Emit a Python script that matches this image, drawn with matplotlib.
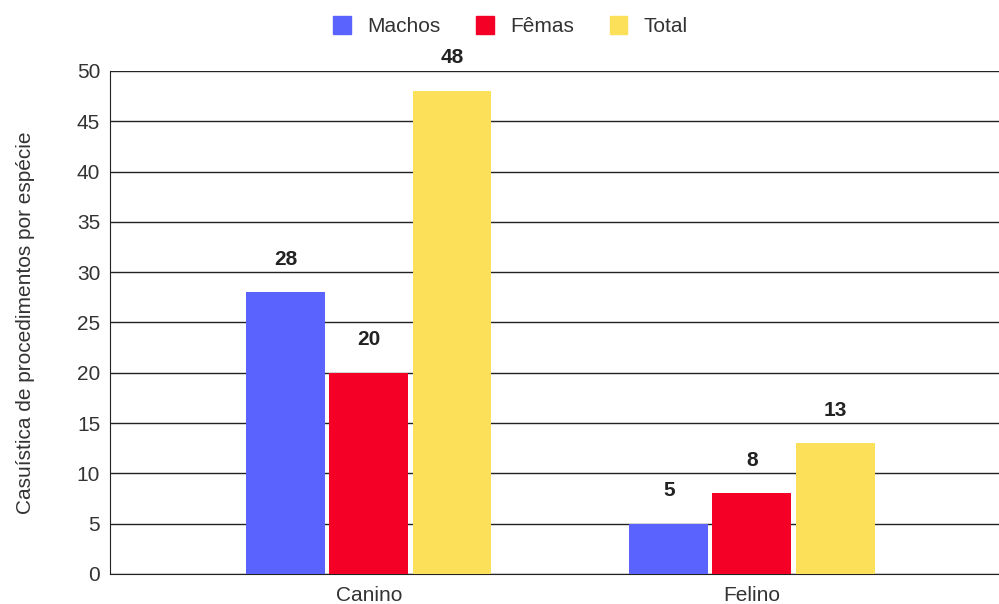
import matplotlib
matplotlib.use("Agg")
import matplotlib.pyplot as plt
import numpy as np
from matplotlib.patches import Patch

categories = ["Canino", "Felino"]
series_names = ["Machos", "Fêmas", "Total"]
machos = [28, 5]
femeas = [20, 8]
total = [48, 13]
yticks = [0, 5, 10, 15, 20, 25, 30, 35, 40, 45, 50]

colors = ["#5b63fe", "#f40027", "#fce05a"]

plt.rcParams["font.family"] = ["Liberation Sans", "DejaVu Sans"]

fig = plt.figure(figsize=(9.99, 6.04), dpi=100)
ax = fig.add_axes([0.110, 0.0497, 0.89, 0.8328])

x = np.arange(len(categories))
width = 0.206
step = 0.217
for i, (vals, col) in enumerate(zip([machos, femeas, total], colors)):
    pos = x + (i - 1) * step
    ax.bar(pos, vals, width=width, color=col, zorder=3)
    for p, v in zip(pos, vals):
        ax.annotate(str(v), (p, v), xytext=(0, 17), textcoords="offset points",
                    ha="center", va="bottom", fontsize=15, fontweight="bold",
                    color="#222222")

ax.set_xlim(-0.676, 1.645)
ax.set_ylim(0, 50)
ax.set_yticks(yticks)
ax.set_xticks(x)
ax.set_xticklabels(categories)
ax.tick_params(axis="both", length=0, labelsize=15, colors="#333333")
ax.tick_params(axis="x", pad=9)
ax.tick_params(axis="y", pad=7)
ax.yaxis.grid(True, color="#222222", linewidth=1.0, zorder=0)
ax.set_axisbelow(True)
for s in ["top", "right"]:
    ax.spines[s].set_visible(False)
ax.spines["left"].set_color("#222222")
ax.spines["bottom"].set_color("#222222")
ax.set_ylabel("Casuística de procedimentos por espécie", fontsize=15,
              color="#333333", labelpad=30)

handles = [Patch(facecolor=c, edgecolor=c) for c in colors]
fig.legend(handles, series_names, loc="center", bbox_to_anchor=(0.511, 0.957),
           ncol=3, frameon=False, fontsize=15, handlelength=0.85, handleheight=1.0,
           columnspacing=1.7, handletextpad=0.8, labelcolor="#333333")

fig.savefig("out.png", dpi=100)
